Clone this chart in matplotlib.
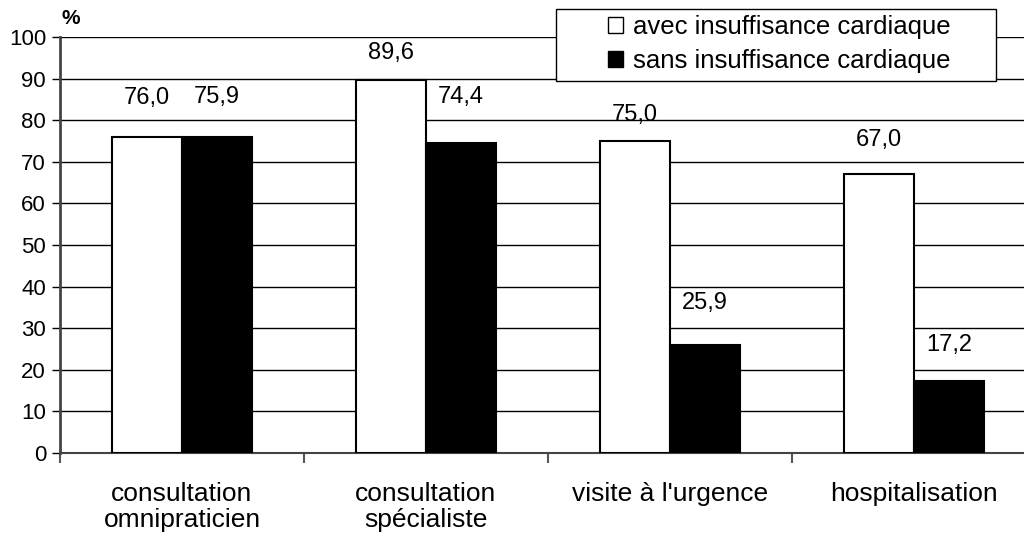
import numpy as np
import matplotlib
matplotlib.use("Agg")
from matplotlib import pyplot as plt
from matplotlib.patches import Patch, Rectangle

plt.rcParams['font.family'] = ['Liberation Sans', 'DejaVu Sans']

categories = ["consultation\nomnipraticien", "consultation\nspécialiste",
              "visite à l'urgence", "hospitalisation"]
avec_ic = [76.0, 89.6, 75.0, 67.0]
sans_ic = [75.9, 74.4, 25.9, 17.2]
series_names = ["avec insuffisance cardiaque", "sans insuffisance cardiaque"]

# label placement (offset above bar, in % units), as hand-placed in the original
avec_dy = [9.3, 6.6, 6.3, 8.2]
sans_dy = [9.7, 11.2, 10.2, 8.8]

fig = plt.figure(figsize=(10.24, 5.36), dpi=100)
ax = fig.add_axes([60 / 1024, 1 - 453 / 536, 976 / 1024, 416 / 536])

x = np.arange(len(categories))
w = 0.287
ax.bar(x - w / 2, avec_ic, w, color="white", edgecolor="black", linewidth=1.5, zorder=3)
ax.bar(x + w / 2, sans_ic, w, color="black", edgecolor="black", linewidth=1.5, zorder=3)

def lab(v):
    return f"{v:.1f}".replace(".", ",")

for i in range(len(categories)):
    ax.text(x[i] - w / 2, avec_ic[i] + avec_dy[i], lab(avec_ic[i]),
            ha="center", va="center", fontsize=17)
    ax.text(x[i] + w / 2, sans_ic[i] + sans_dy[i], lab(sans_ic[i]),
            ha="center", va="center", fontsize=17)

ax.set_xlim(-0.5, len(categories) - 0.5)
ax.set_ylim(0, 100)
ax.set_yticks(range(0, 101, 10))
ax.yaxis.grid(True, color="black", linewidth=1)
ax.set_axisbelow(True)

ax.set_xticks(x)
ax.set_xticklabels(categories, fontsize=19, linespacing=1.12)
ax.set_xticks(np.arange(-0.5, len(categories), 1.0), minor=True)
ax.tick_params(axis="x", which="major", length=0, pad=21)
ax.tick_params(axis="x", which="minor", length=7, color="#555555", width=1.5)
ax.tick_params(axis="y", length=6, width=1, labelsize=16, pad=4)

for s in ["top", "right"]:
    ax.spines[s].set_visible(False)
ax.spines["left"].set_color("#444444")
ax.spines["left"].set_linewidth(2)
ax.spines["bottom"].set_color("#444444")
ax.spines["bottom"].set_linewidth(1.5)

fig.text(62 / 1024, 1 - 18 / 536, "%", fontsize=15, fontweight="bold", va="center")

# legend box drawn separately to get the wide side padding of the original
box = Rectangle((556 / 1024, 1 - 81 / 536), 440 / 1024, 72 / 536,
                transform=fig.transFigure, facecolor="white",
                edgecolor="black", linewidth=1, zorder=5)
fig.patches.append(box)

handles = [Patch(facecolor="white", edgecolor="black", linewidth=1),
           Patch(facecolor="black", edgecolor="black", linewidth=1)]
leg = fig.legend(handles, series_names, loc="center left",
                 bbox_to_anchor=(608 / 1024, 1 - 44 / 536), fontsize=18.5,
                 frameon=False, handlelength=0.58, handleheight=0.58,
                 handletextpad=0.38, borderpad=0, labelspacing=0.38,
                 borderaxespad=0)
leg.set_zorder(6)

plt.savefig("out.png", dpi=100)
plt.close()
